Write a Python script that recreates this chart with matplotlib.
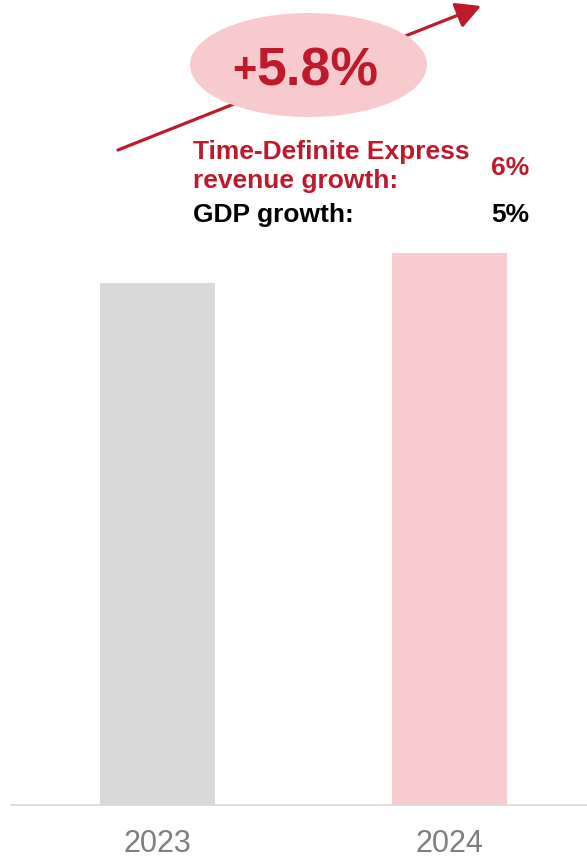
import matplotlib
matplotlib.use("Agg")
import matplotlib.pyplot as plt
from matplotlib.patches import Ellipse, FancyArrowPatch

plt.rcParams['font.family'] = ['Liberation Sans', 'DejaVu Sans']

# ---- data ----
years = ["2023", "2024"]
values = [100.0, 105.8]
bar_colors = ["#D9D9D9", "#F8CBCE"]
growth_label = "5.8%"
express_lines = ["Time-Definite Express", "revenue growth:"]
express_value = "6%"
gdp_label = "GDP growth:"
gdp_value = "5%"

RED = "#BE1A2C"
W, H = 587, 859
fig = plt.figure(figsize=(W / 100, H / 100), dpi=100)

# main bar axes (pixel geometry converted to figure fractions)
ax_left, ax_right, ax_bottom, ax_top = 11, 587, 805, 0
ax = fig.add_axes([ax_left / W, (H - ax_bottom) / H, (ax_right - ax_left) / W, (ax_bottom - ax_top) / H])
x = list(range(len(years)))
ax.bar(x, values, width=0.394, color=bar_colors, zorder=2)
ax.set_xlim(-0.502, 1.471)
ax.set_ylim(0, 100 * 805 / 522)
for s in ["top", "right", "left"]:
    ax.spines[s].set_visible(False)
ax.spines["bottom"].set_color("#D9D9D9")
ax.spines["bottom"].set_linewidth(1.2)
ax.set_yticks([])
ax.set_xticks(x)
ax.set_xticklabels(years, fontsize=22, color="#7F7F7F")
ax.tick_params(axis="x", length=0, pad=17)

# overlay for annotations, pixel coordinates
ov = fig.add_axes([0, 0, 1, 1])
ov.set_xlim(0, W)
ov.set_ylim(H, 0)
ov.axis("off")

arrow = FancyArrowPatch((118, 150), (481, 6), arrowstyle="-|>,head_length=6,head_width=3.2",
                        color=RED, lw=2.3, mutation_scale=2.5, shrinkA=0, shrinkB=0, zorder=1)
ov.add_patch(arrow)
ov.add_patch(Ellipse((308.5, 65), 237, 104, facecolor="#F7CACD", edgecolor="none", zorder=2))
ov.text(257, 71, "+", fontsize=30, fontweight="bold", color=RED, ha="right", va="center", zorder=3)
ov.text(256, 86, growth_label, fontsize=38.5, fontweight="bold", color=RED, ha="left",
        va="baseline", zorder=3)

ov.text(193, 159, express_lines[0], fontsize=19, fontweight="bold", color=RED, ha="left", va="baseline")
ov.text(193, 188, express_lines[1], fontsize=19, fontweight="bold", color=RED, ha="left", va="baseline")
ov.text(529, 175, express_value, fontsize=19, fontweight="bold", color=RED, ha="right", va="baseline")
ov.text(193, 222, gdp_label, fontsize=19, fontweight="bold", color="black", ha="left", va="baseline")
ov.text(529, 222, gdp_value, fontsize=19, fontweight="bold", color="black", ha="right", va="baseline")

fig.savefig("out.png", dpi=100)
